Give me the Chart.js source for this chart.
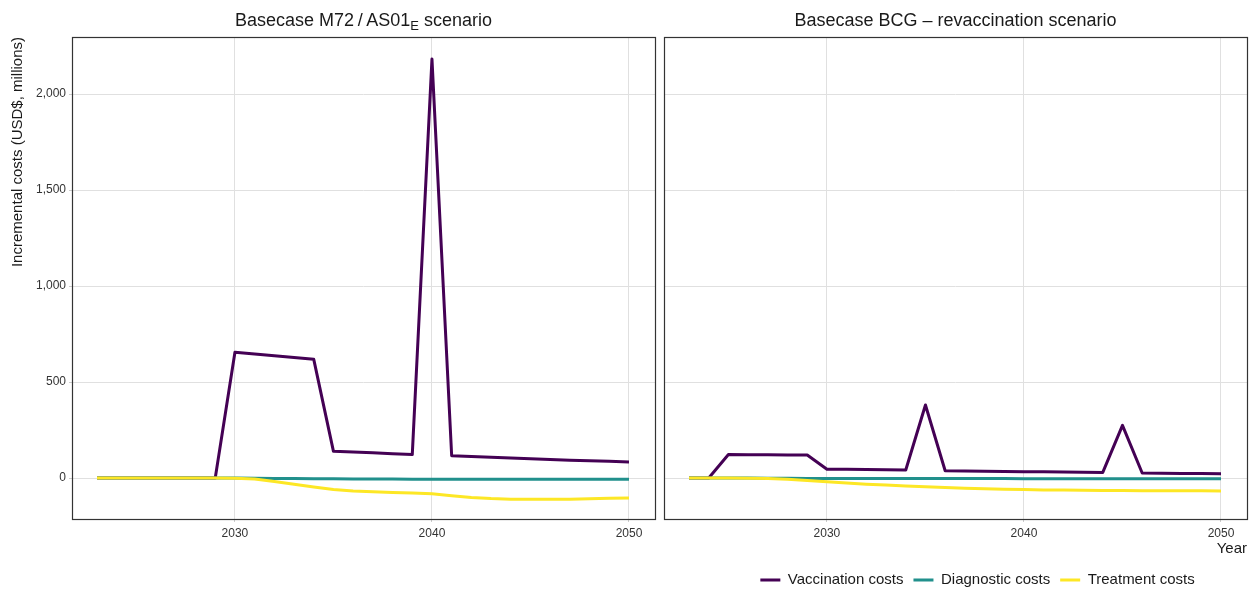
<!DOCTYPE html>
<html>
<head>
<meta charset="utf-8">
<script src="https://cdn.jsdelivr.net/npm/chart.js@4.4.1/dist/chart.umd.min.js"></script>
<style>
    html, body { margin: 0; padding: 0; background: #fff; overflow: hidden; width: 1252px; height: 590px; }
    #m72-wrap { position: absolute; left: 0; top: 0; width: 660px; height: 590px; }
    #bcg-wrap { position: absolute; left: 660px; top: 0; width: 636px; height: 598px; }
</style>
</head>
<body>
<div id="m72-wrap"><canvas id="m72-chart"></canvas></div>
<div id="bcg-wrap"><canvas id="bcg-chart"></canvas></div>
<script>
const years = [2023, 2024, 2025, 2026, 2027, 2028, 2029, 2030, 2031, 2032, 2033, 2034, 2035, 2036,
    2037, 2038, 2039, 2040, 2041, 2042, 2043, 2044, 2045, 2046, 2047, 2048, 2049, 2050];

const seriesNames = ['Vaccination costs', 'Diagnostic costs', 'Treatment costs'];
const seriesColors = ['#440154', '#21908C', '#FDE725'];

// M72/AS01E panel
const m72Vaccination = [0, 0, 0, 0, 0, 0, 0, 655, 646, 637, 628, 618, 139, 135,
    131, 126, 122, 2182, 116, 112, 108, 104, 100, 97, 93, 90, 87, 84];
const m72Diagnostic = [0, 0, 0, 0, 0, 0, 0, 0, -1, -2, -3, -4, -4, -5,
    -5, -5, -6, -6, -6, -7, -7, -7, -7, -7, -7, -7, -7, -7];
const m72Treatment = [0, 0, 0, 0, 0, 0, 0, -1, -5, -18, -33, -47, -60, -68,
    -72, -75, -78, -82, -92, -101, -107, -110, -111, -111, -110, -108, -106, -104];

// BCG revaccination panel
const bcgVaccination = [0, 0, 122, 121, 121, 120, 120, 46, 45, 44, 43, 42, 380, 38,
    37, 35, 34, 33, 32, 31, 30, 29, 274, 26, 25, 24, 23, 22];
const bcgDiagnostic = [0, 0, 0, 0, -1, -1, -2, -2, -3, -3, -3, -3, -3, -3,
    -3, -3, -3, -4, -4, -4, -4, -4, -4, -4, -4, -4, -4, -4];
const bcgTreatment = [0, 0, 0, -1, -3, -7, -13, -20, -26, -32, -37, -41, -45, -49,
    -53, -56, -58, -60, -62, -63, -64, -65, -65, -66, -66, -67, -67, -68];

const xTicks = [2030, 2040, 2050];
const yTicks = [0, 500, 1000, 1500, 2000];

const fontFamily = '"Liberation Sans", Arial, sans-serif';
const gridColor = '#e0e0e0';
const tickMarkColor = '#cccccc';
const textColor = '#333333';

function makeDatasets(series) {
    return series.map((vals, i) => ({
        label: seriesNames[i],
        data: years.map((yr, k) => ({ x: yr, y: vals[k] })),
        borderColor: seriesColors[i],
        backgroundColor: seriesColors[i],
        pointBorderColor: seriesColors[i],
        pointBackgroundColor: seriesColors[i],
        pointBorderWidth: 3,
        borderWidth: 3,
        borderJoinStyle: 'round',
        pointRadius: 0,
        fill: false,
        order: 3 - i   // treatment drawn on top, like the original
    }));
}

function xScale(showTitle) {
    return {
        type: 'linear',
        min: 2021.73,
        max: 2051.32,
        afterBuildTicks: s => { s.ticks = xTicks.map(v => ({ value: v })); },
        afterFit: s => { s.height = 43.5; },
        ticks: {
            autoSkip: false, maxRotation: 0, padding: 4,
            color: textColor, font: { family: fontFamily, size: 12 },
            callback: v => String(v)
        },
        grid: { color: gridColor, tickColor: tickMarkColor, tickLength: 3 },
        border: { display: false },
        title: {
            display: showTitle, text: 'Year', align: 'end', color: '#1a1a1a',
            font: { family: fontFamily, size: 15 }, padding: { top: 0, bottom: 4.5 }
        }
    };
}

function yScale(showLabels) {
    return {
        min: -213.5,
        max: 2297,
        afterBuildTicks: s => { s.ticks = yTicks.map(v => ({ value: v })); },
        afterFit: s => { s.width = showLabels ? 72 : 0; },
        ticks: {
            display: showLabels, padding: 3,
            color: textColor, font: { family: fontFamily, size: 12 },
            callback: v => v.toLocaleString('en-US')
        },
        grid: { color: gridColor, tickColor: tickMarkColor, tickLength: 3, drawTicks: showLabels },
        border: { display: false },
        title: {
            display: showLabels, text: 'Incremental costs (USD$, millions)', align: 'end',
            color: '#1a1a1a', font: { family: fontFamily, size: 15 }, padding: { top: 9, bottom: 0 }
        }
    };
}

// dark frame round each panel
const panelBox = {
    id: 'panelBox',
    afterDraw(chart) {
        const { ctx, chartArea: a } = chart;
        ctx.save();
        ctx.strokeStyle = '#333333';
        ctx.lineWidth = 1.2;
        ctx.strokeRect(Math.round(a.left) + 0.5, Math.round(a.top) + 0.5,
            Math.round(a.right - a.left), Math.round(a.bottom - a.top));
        ctx.restore();
    }
};

// panel title, with a subscript part where needed
const panelTitle = {
    id: 'panelTitle',
    afterDraw(chart, args, opts) {
        const { ctx, chartArea: a } = chart;
        const parts = opts.parts || [];
        const fontOf = p => (p.sub ? '13px ' : '18px ') + fontFamily;
        ctx.save();
        ctx.fillStyle = '#1a1a1a';
        ctx.textBaseline = 'alphabetic';
        let total = 0;
        parts.forEach(p => { ctx.font = fontOf(p); total += ctx.measureText(p.text).width; });
        let x = (a.left + a.right) / 2 - total / 2;
        parts.forEach(p => {
            ctx.font = fontOf(p);
            ctx.textAlign = 'left';
            ctx.fillText(p.text, x, p.sub ? 30 : 26);
            x += ctx.measureText(p.text).width;
        });
        ctx.restore();
    }
};

const m72Chart = new Chart(document.getElementById('m72-chart'), {
    type: 'line',
    data: { datasets: makeDatasets([m72Vaccination, m72Diagnostic, m72Treatment]) },
    plugins: [panelBox, panelTitle],
    options: {
        responsive: true,
        maintainAspectRatio: false,
        animation: false,
        layout: { padding: { top: 37, left: 0, right: 5, bottom: 27.5 } },
        plugins: {
            legend: { display: false },
            tooltip: { enabled: false },
            panelTitle: { parts: [{ text: 'Basecase M72\u2009/\u2009AS01' }, { text: 'E', sub: true }, { text: ' scenario' }] }
        },
        scales: { x: xScale(false), y: yScale(true) }
    }
});

const bcgChart = new Chart(document.getElementById('bcg-chart'), {
    type: 'line',
    data: { datasets: makeDatasets([bcgVaccination, bcgDiagnostic, bcgTreatment]) },
    plugins: [panelBox, panelTitle],
    options: {
        responsive: true,
        maintainAspectRatio: false,
        animation: false,
        layout: { padding: { top: 37, left: 4, right: 5, bottom: 0.5 } },
        plugins: {
            legend: {
                display: true,
                position: 'bottom',
                labels: {
                    usePointStyle: true, pointStyle: 'line', pointStyleWidth: 20,
                    padding: 10, color: '#1a1a1a', font: { family: fontFamily, size: 15 },
                    sort: (a, b) => a.datasetIndex - b.datasetIndex
                }
            },
            tooltip: { enabled: false },
            panelTitle: { parts: [{ text: 'Basecase BCG \u2013 revaccination scenario' }] }
        },
        scales: {
            x: xScale(true),
            y: yScale(false),
            // empty axis on the right, only there to shift the legend like the original
            yPad: {
                position: 'right', min: 0, max: 1,
                ticks: { display: false },
                grid: { display: false, drawTicks: false },
                border: { display: false },
                afterFit: s => { s.width = 44; }
            }
        }
    }
});
</script>
</body>
</html>
